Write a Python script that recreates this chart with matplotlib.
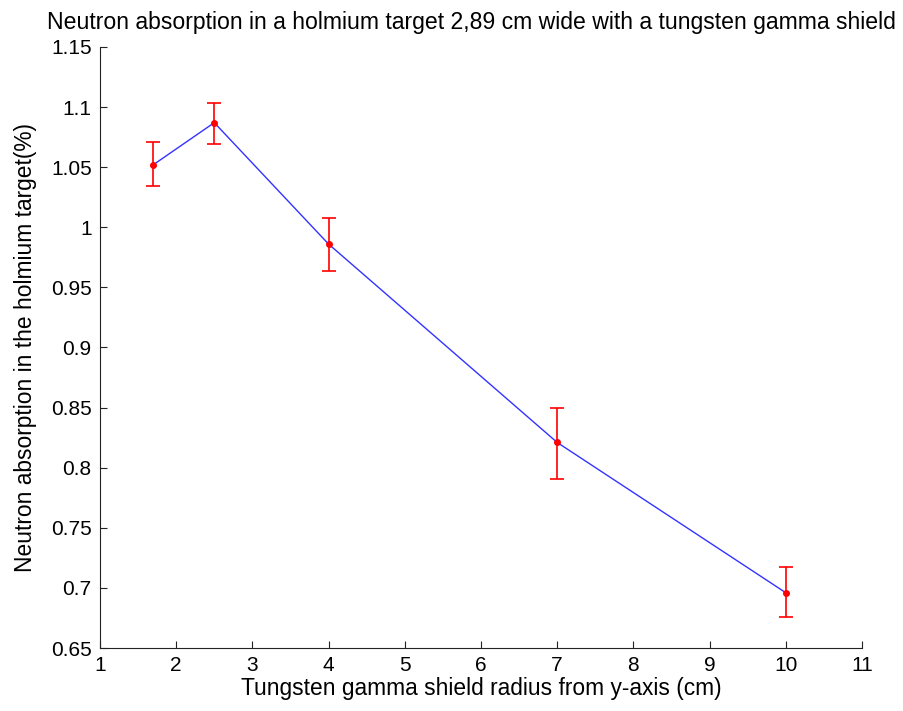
import numpy as np
import matplotlib
matplotlib.use('Agg')
import matplotlib.pyplot as plt

plt.rcParams['font.family'] = ['Liberation Sans', 'DejaVu Sans']

radius = [1.7, 2.5, 4, 7, 10]
absorption = [1.052, 1.087, 0.986, 0.821, 0.696]
err_low = [0.018, 0.018, 0.022, 0.030, 0.020]
err_high = [0.019, 0.016, 0.022, 0.029, 0.021]

xticks = [1, 2, 3, 4, 5, 6, 7, 8, 9, 10, 11]
yticks = [0.65, 0.7, 0.75, 0.8, 0.85, 0.9, 0.95, 1, 1.05, 1.1, 1.15]
ytick_labels = ['0.65', '0.7', '0.75', '0.8', '0.85', '0.9', '0.95', '1', '1.05', '1.1', '1.15']

fig = plt.figure(figsize=(9.04, 7.11), dpi=100)
ax = fig.add_axes([0.1106, 0.0886, 0.8429, 0.8454])

ax.plot(radius, absorption, color='#3333ff', linewidth=1, zorder=2)
ax.errorbar(radius, absorption, yerr=[err_low, err_high], fmt='o', color='red',
            markersize=4, elinewidth=1.2, capsize=5, capthick=1.2, zorder=3)

ax.set_xlim(1, 11)
ax.set_ylim(0.65, 1.15)
ax.set_xticks(xticks)
ax.set_xticklabels([str(t) for t in xticks])
ax.set_yticks(yticks)
ax.set_yticklabels(ytick_labels)
ax.tick_params(direction='in', length=5, labelsize=15, color='#222222', pad=6)

for s in ['top', 'right']:
    ax.spines[s].set_visible(False)
for s in ['left', 'bottom']:
    ax.spines[s].set_color('#222222')

ax.set_title('Neutron absorption in a holmium target 2,89 cm wide with a tungsten gamma shield',
             fontsize=16.6, pad=13, x=0.488)
ax.set_xlabel('Tungsten gamma shield radius from y-axis (cm)', fontsize=16.4, labelpad=1)
ax.set_ylabel('Neutron absorption in the holmium target(%)', fontsize=16.4, labelpad=10)

fig.savefig('out.png', dpi=100)
